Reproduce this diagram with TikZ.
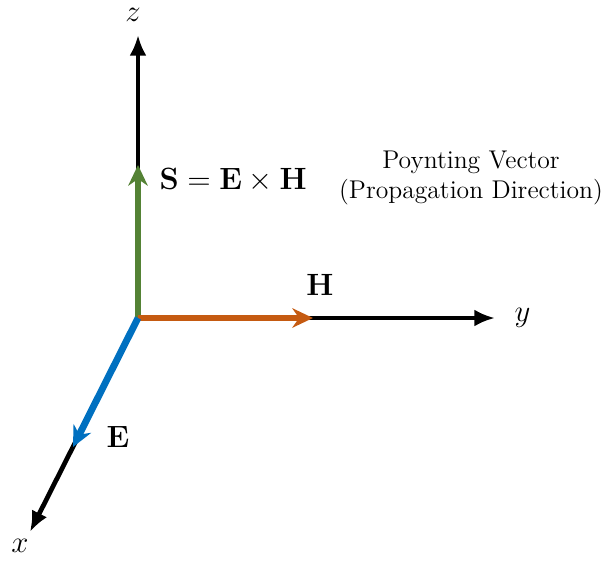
\documentclass[tikz,border=0pt]{standalone}
\usepackage{tikz}
\usetikzlibrary{positioning,arrows.meta}

\definecolor{sgreen}{HTML}{548235}
\definecolor{horange}{HTML}{C55A11}
\definecolor{eblue}{HTML}{0070C0}

\begin{document}
\begin{tikzpicture}[
  x=0.01645cm, y=-0.01645cm,
  axis/.style={-{Latex[length=3.4mm,width=2.8mm]}, line width=2.2pt, black},
  field/.style={-{Stealth[length=3.4mm,width=3.2mm]}, line width=3.2pt},
  lbl/.style={font=\fontsize{15}{18}\selectfont},
  note/.style={font=\large, align=center}
]
  \useasboundingbox (0,0) rectangle (608,565);

  % axis ends
  \coordinate (O) at (138,318);
  \coordinate (zend) at (138,35);
  \coordinate (yend) at (495,318);
  \coordinate (xend) at (30,532);

  % field vector ends
  \coordinate (Stip) at (138,165);
  \coordinate (Htip) at (313,318);
  \coordinate (Etip) at (73,447);

  % axes
  \draw[axis] (O) -- (zend);
  \draw[axis] (O) -- (yend);
  \draw[axis] (O) -- (xend);

  % fields
  \draw[field, sgreen] (O) -- (Stip);
  \draw[field, horange] (O) -- (Htip);
  \draw[field, eblue] (O) -- (Etip);

  % labels
  \node[lbl, inner sep=0pt] (zlbl) at (133,15) {$z$};
  \node[lbl, right=2mm of yend] (ylbl) {$y$};
  \node[lbl, below left=0mm and -1mm of xend] (xlbl) {$x$};
  \node[lbl, anchor=west] (Slbl) at (152,180) {$\mathbf{S}=\mathbf{E}\times\mathbf{H}$};
  \node[lbl] (Hlbl) at (320,285) {$\mathbf{H}$};
  \node[lbl] (Elbl) at (118,437) {$\mathbf{E}$};
  \node[note] (poynt) at (471,178) {Poynting Vector\\(Propagation Direction)};
\end{tikzpicture}
\end{document}
